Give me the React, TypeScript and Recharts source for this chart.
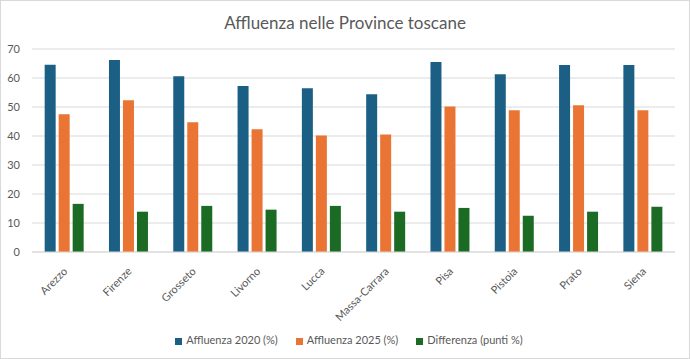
import { BarChart, Bar, XAxis, YAxis, CartesianGrid, Legend } from "recharts";

const province = [
  "Arezzo",
  "Firenze",
  "Grosseto",
  "Livorno",
  "Lucca",
  "Massa-Carrara",
  "Pisa",
  "Pistoia",
  "Prato",
  "Siena",
];
const affluenza2020 = [64.6, 66.2, 60.6, 57.2, 56.5, 54.4, 65.5, 61.3, 64.5, 64.5];
const affluenza2025 = [47.5, 52.3, 44.7, 42.3, 40.2, 40.5, 50.2, 48.9, 50.6, 48.9];
const differenza = [16.6, 13.9, 15.9, 14.6, 15.9, 13.9, 15.2, 12.5, 13.9, 15.6];
const yTicks = [0, 10, 20, 30, 40, 50, 60, 70];

const data = province.map((p, i) => ({
  provincia: p,
  a2020: affluenza2020[i],
  a2025: affluenza2025[i],
  diff: differenza[i],
}));

const FONT = "Lato, 'Open Sans', sans-serif";
const GREY = "#595959";

function RotatedTick({ x, y, payload }: any) {
  return (
    <text
      x={x + 4}
      y={y + 12}
      transform={`rotate(-45, ${x + 4}, ${y + 12})`}
      textAnchor="end"
      fill={GREY}
      fontSize={11}
      fontFamily={FONT}
    >
      {payload.value}
    </text>
  );
}

export default function App() {
  return (
    <div
      style={{
        position: "absolute",
        left: 0,
        top: 0,
        width: 690,
        height: 359,
        boxSizing: "border-box",
        border: "1px solid #d9d9d9",
        background: "#fff",
        fontFamily: FONT,
      }}
    >
      <div
        style={{
          position: "absolute",
          top: 11,
          width: "100%",
          textAlign: "center",
          fontSize: 17,
          lineHeight: "22px",
          color: GREY,
        }}
      >
        Affluenza nelle Province toscane
      </div>
      <BarChart
        width={688}
        height={357}
        data={data}
        margin={{ top: 48, right: 14, left: 0, bottom: 23 }}
        barGap={3}
        barCategoryGap="19.7%"
      >
        <CartesianGrid stroke="#d9d9d9" vertical={false} />
        <XAxis
          dataKey="provincia"
          interval={0}
          height={70}
          tick={<RotatedTick />}
          tickLine={false}
          axisLine={{ stroke: "#d9d9d9" }}
        />
        <YAxis
          width={31}
          domain={[0, 70]}
          ticks={yTicks}
          tickSize={0}
          tickMargin={12}
          axisLine={false}
          tickLine={false}
          tick={{ fill: GREY, fontSize: 11, fontFamily: FONT }}
        />
        <Legend
          verticalAlign="bottom"
          iconType="square"
          iconSize={7}
          wrapperStyle={{ bottom: 12, left: 16, fontSize: 11, fontFamily: FONT }}
          formatter={(v: string, _e: any, i: number) => (
            <span style={{ color: GREY, marginRight: i < 2 ? 8 : 0 }}>{v}</span>
          )}
        />
        <Bar dataKey="a2020" name="Affluenza 2020 (%)" fill="#1b5f85" isAnimationActive={false} />
        <Bar dataKey="a2025" name="Affluenza 2025 (%)" fill="#ea7434" isAnimationActive={false} />
        <Bar dataKey="diff" name="Differenza (punti %)" fill="#1c6b24" isAnimationActive={false} />
      </BarChart>
    </div>
  );
}
